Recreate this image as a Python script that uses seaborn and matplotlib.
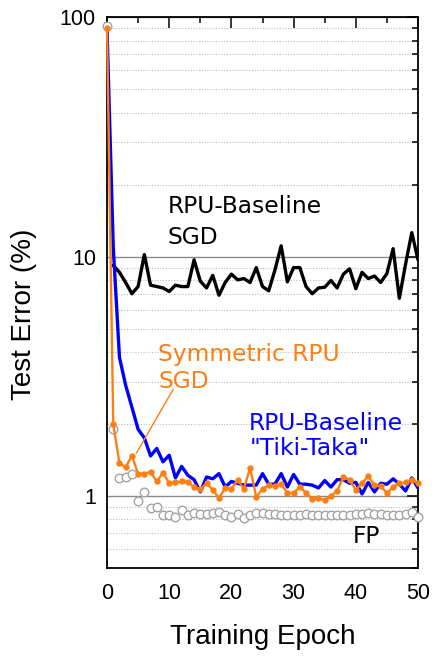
import matplotlib
matplotlib.use('Agg')
import matplotlib.pyplot as plt
import seaborn as sns
from matplotlib.ticker import FixedLocator, FuncFormatter, LogLocator, NullFormatter

# ---------------- data ----------------
epochs = list(range(0, 51))

fp_error = [92, 1.9, 1.19, 1.2, 1.24, 0.95, 1.04, 0.89, 0.9, 0.83,
            0.83, 0.82, 0.87, 0.83, 0.85, 0.84, 0.84, 0.85, 0.86, 0.83,
            0.82, 0.84, 0.81, 0.83, 0.85, 0.85, 0.84, 0.84, 0.83, 0.83,
            0.83, 0.83, 0.84, 0.83, 0.83, 0.83, 0.83, 0.83, 0.83, 0.83,
            0.84, 0.84, 0.85, 0.84, 0.84, 0.83, 0.83, 0.83, 0.84, 0.86,
            0.82]

symmetric_sgd = [90, 2.0, 1.37, 1.32, 1.47, 1.24, 1.24, 1.26, 1.15, 1.25,
                 1.13, 1.14, 1.15, 1.14, 1.09, 1.07, 1.13, 1.06, 0.98, 1.08,
                 1.07, 1.17, 1.07, 1.31, 0.99, 1.07, 1.11, 1.10, 1.12, 1.03,
                 1.03, 1.09, 1.03, 0.97, 0.98, 0.96, 1.00, 1.05, 1.20, 1.17,
                 1.06, 1.13, 1.21, 1.11, 1.10, 1.03, 1.09, 1.13, 1.14, 1.17,
                 1.13]

tiki_taka = [90, 11.0, 3.8, 2.9, 2.35, 1.9, 1.75, 1.47, 1.58, 1.39,
             1.48, 1.19, 1.33, 1.22, 1.17, 1.04, 1.20, 1.18, 1.24, 1.09,
             1.15, 1.13, 1.11, 1.11, 1.11, 1.24, 1.12, 1.12, 1.24, 1.09,
             1.23, 1.12, 1.12, 1.11, 1.08, 1.16, 1.09, 1.17, 1.17, 1.13,
             1.14, 1.02, 1.14, 1.04, 1.13, 1.12, 1.18, 1.12, 1.05, 1.19,
             1.08]

baseline_epochs = list(range(1, 51))
baseline_sgd = [9.2, 8.6, 7.8, 7.0, 7.5, 10.2, 7.6, 7.5, 7.4, 7.15,
                7.6, 7.5, 7.5, 9.7, 7.9, 7.4, 8.35, 6.9, 7.8, 8.45,
                8.0, 8.1, 7.8, 9.0, 7.5, 7.2, 8.8, 11.1, 7.85, 9.0,
                9.0, 7.5, 7.0, 7.4, 7.45, 7.95, 7.4, 8.45, 8.9, 7.35,
                8.6, 8.1, 8.3, 7.8, 8.5, 10.8, 6.7, 9.3, 12.6, 9.7]

x_ticks = [0, 10, 20, 30, 40, 50]
y_ticks = [1, 10, 100]

ORANGE = '#fb7f12'
BLUE = '#0000ff'

# ---------------- figure ----------------
sns.set_theme(style='white')
plt.rcParams['font.family'] = ['Liberation Sans', 'DejaVu Sans']
plt.rcParams.update({'text.color': 'black', 'axes.labelcolor': 'black',
                     'xtick.color': 'black', 'ytick.color': 'black'})

fig = plt.figure(figsize=(4.32, 6.56), dpi=100)
ax = fig.add_axes([0.2477, 0.1341, 0.7199, 0.8395])
ax.set_yscale('log')

ax.yaxis.grid(True, which='major', color='#8a8a8a', lw=1.0, ls='-')
ax.yaxis.grid(True, which='minor', color='#bdbdbd', lw=0.8, ls=(0, (1, 1.5)))
ax.xaxis.grid(False)
ax.set_axisbelow(True)

sns.scatterplot(x=epochs, y=fp_error, ax=ax, marker='o', s=38,
                color='white', edgecolor='#a3a3a3', linewidth=1.0,
                zorder=3, clip_on=False, legend=False)
sns.lineplot(x=baseline_epochs, y=baseline_sgd, ax=ax, color='black',
             lw=2.4, zorder=4, legend=False)
sns.lineplot(x=epochs, y=tiki_taka, ax=ax, color=BLUE, lw=2.4,
             zorder=5, legend=False)
sns.lineplot(x=epochs, y=symmetric_sgd, ax=ax, color=ORANGE, lw=1.7,
             marker='o', markersize=4.6, markeredgewidth=0,
             zorder=6, legend=False, clip_on=False)

ax.set_xlim(0, 50)
ax.set_ylim(0.5, 100)

ax.xaxis.set_major_locator(FixedLocator(x_ticks))
ax.xaxis.set_minor_locator(FixedLocator([5, 15, 25, 35, 45]))
ax.yaxis.set_major_locator(FixedLocator(y_ticks))
ax.yaxis.set_minor_locator(LogLocator(base=10, subs=range(2, 10), numticks=20))
ax.yaxis.set_major_formatter(FuncFormatter(lambda v, p: '%g' % v))
ax.yaxis.set_minor_formatter(NullFormatter())

ax.tick_params(which='both', direction='in', top=True, right=True,
               color='black', labelcolor='black', width=1.1)
ax.tick_params(which='major', length=8)
ax.tick_params(which='minor', length=4.5)
ax.tick_params(axis='x', which='major', labelsize=15.5, pad=11)
ax.tick_params(axis='y', which='major', labelsize=15.5, pad=8)

for sp in ax.spines.values():
    sp.set_color('black')
    sp.set_linewidth(1.3)

ax.set_xlabel('Training Epoch', fontsize=20, labelpad=14, color='black')
ax.set_ylabel('Test Error (%)', fontsize=20, color='black')
ax.yaxis.set_label_coords(-0.225, 0.46)

# ---------------- annotations ----------------
afont = dict(family='DejaVu Sans', fontsize=16.8, va='baseline', ha='left')
ax.text(9.8, 15.2, 'RPU-Baseline', color='black', **afont)
ax.text(9.8, 11.3, 'SGD', color='black', **afont)
ax.text(8.2, 3.68, 'Symmetric RPU', color=ORANGE, **afont)
ax.text(8.2, 2.82, 'SGD', color=ORANGE, **afont)
ax.text(22.8, 1.89, 'RPU-Baseline', color=BLUE, **afont)
ax.text(23.0, 1.48, '"Tiki-Taka"', color=BLUE, **afont)
ax.text(39.5, 0.634, 'FP', color='black', **afont)
ax.plot([10.66, 4.74], [2.796, 1.513], color=ORANGE, lw=1.0, zorder=7)

fig.savefig('out.png', dpi=100)
